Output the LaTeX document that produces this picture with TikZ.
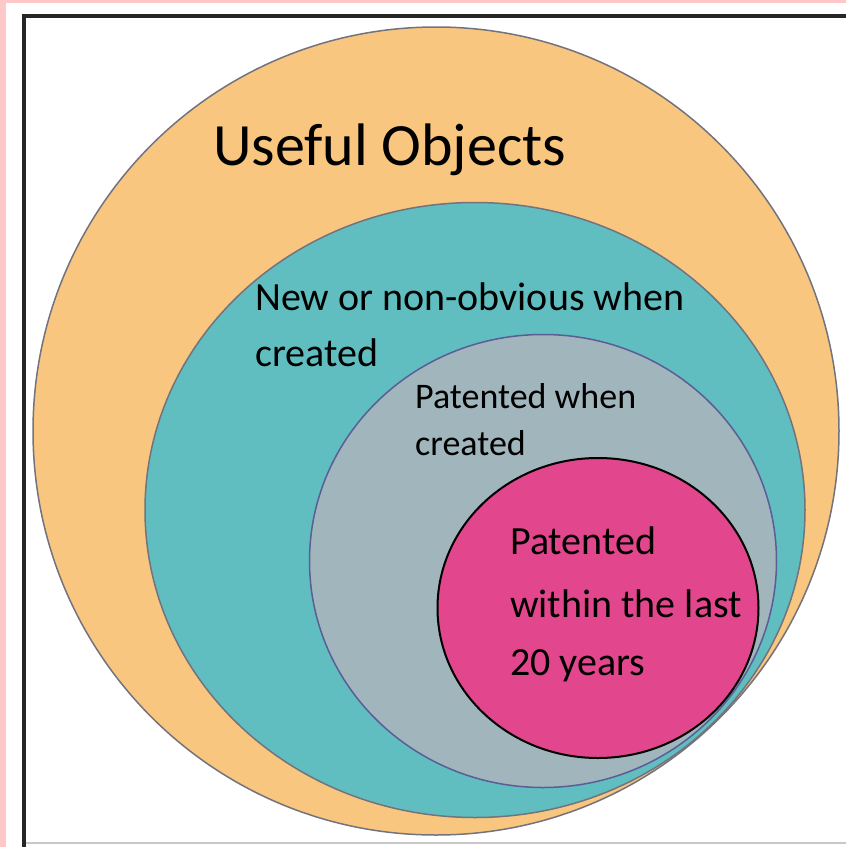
\documentclass[tikz,border=0pt]{standalone}
\usepackage{fontspec}
\setmainfont{Carlito}
\usetikzlibrary{shapes.geometric}
\definecolor{bgpink}{RGB}{255,200,200}
\definecolor{orangefill}{RGB}{249,198,128}
\definecolor{tealfill}{RGB}{96,190,192}
\definecolor{grayfill}{RGB}{160,182,188}
\definecolor{pinkfill}{RGB}{226,70,140}
\definecolor{edgegray}{RGB}{115,115,125}
\definecolor{framegray}{RGB}{200,200,200}
\tikzset{
  setshape/.style={ellipse, inner sep=0pt, line width=1.5pt, draw=edgegray},
  lbl/.style={anchor=base west, inner sep=0pt, text=black}
}
\begin{document}
\begin{tikzpicture}[x=1pt,y=-1pt]
\useasboundingbox (0,0) rectangle (846,847);
\fill[bgpink] (0,0) rectangle (846,847);
\fill[white] (6,3) rectangle (846,847);
\draw[framegray, line width=1.5pt] (24,843) -- (846,843);
\draw[black!85, line width=4.5pt] (24,849) -- (24,16) -- (848,16);
% sets
\node[setshape, fill=orangefill, minimum width=806pt, minimum height=808pt] (useful) at (436,431) {};
\node[setshape, fill=tealfill, minimum width=660pt, minimum height=615pt] (newobv) at (475,510) {};
\node[setshape, fill=grayfill, minimum width=467pt, minimum height=453pt, draw=edgegray!80!blue] (patcreated) at (543,561) {};
\node[setshape, fill=pinkfill, minimum width=321pt, minimum height=300pt, draw=black, line width=2pt] (pat20) at (598,608) {};
% labels
\node[lbl, font=\fontsize{60}{72}\selectfont] (tuseful) at (213,165) {Useful Objects};
\node[lbl, font=\fontsize{40}{48}\selectfont] (tnew1) at (255,310) {New or non-obvious when};
\node[lbl, font=\fontsize{40}{48}\selectfont] (tnew2) at (255,366) {created};
\node[lbl, font=\fontsize{36}{44}\selectfont] (tpc1) at (415,408) {Patented when};
\node[lbl, font=\fontsize{36}{44}\selectfont] (tpc2) at (415,455) {created};
\node[lbl, font=\fontsize{40}{48}\selectfont] (tp1) at (510,554) {Patented};
\node[lbl, font=\fontsize{40}{48}\selectfont] (tp2) at (510,617) {within the last};
\node[lbl, font=\fontsize{40}{48}\selectfont] (tp3) at (510,675) {20 years};
\end{tikzpicture}
\end{document}
